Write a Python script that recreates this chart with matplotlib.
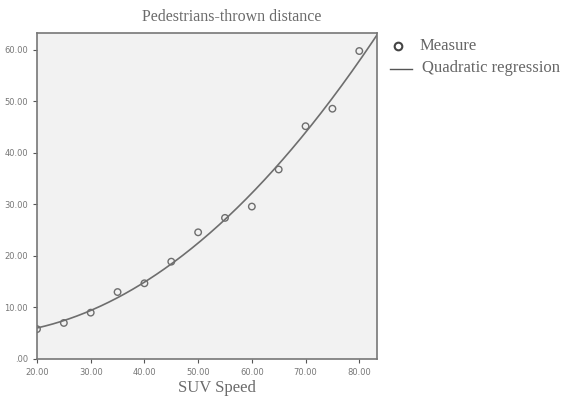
import numpy as np
import matplotlib
matplotlib.use("Agg")
import matplotlib.pyplot as plt
from matplotlib.lines import Line2D

speed = [20, 25, 30, 35, 40, 45, 50, 55, 60, 65, 70, 75, 80]
distance = [5.8, 7.0, 9.0, 13.0, 14.7, 18.9, 24.6, 27.4, 29.6, 36.8, 45.2, 48.6, 59.8]
xticks = [20, 30, 40, 50, 60, 70, 80]
yticks = [0, 10, 20, 30, 40, 50, 60]
legend_labels = ["Measure", "Quadratic regression"]

W, H = 569, 398
fig = plt.figure(figsize=(W / 100, H / 100), dpi=100)
ax = fig.add_axes([37 / W, 1 - 359 / H, 340 / W, 326 / H])
ax.set_facecolor("#f2f2f2")

coef = np.polyfit(speed, distance, 2)
xs = np.linspace(20, 83.3, 300)
ax.plot(xs, np.polyval(coef, xs), color="#6e6e6e", lw=1.2, zorder=2)
ax.scatter(speed, distance, s=22, facecolors="none", edgecolors="#6e6e6e", linewidths=1.0, zorder=3)

ax.set_xlim(20, 83.3)
ax.set_ylim(0, 63.3)
ax.set_xticks(xticks)
ax.set_yticks(yticks)
ax.set_xticklabels([f"{v:.2f}" for v in xticks])
ax.set_yticklabels([".00" if v == 0 else f"{v:.2f}" for v in yticks])
ax.tick_params(labelsize=6, colors="#555555", length=3, width=0.8, labelcolor="#777777")
for s in ax.spines.values():
    s.set_color("#777777")
    s.set_linewidth(1.2)

serif = "Liberation Serif"
tcol = "#6b6b6b"
fig.text(232 / W, 1 - 17 / H, "Pedestrians-thrown distance", ha="center", va="center",
         family=serif, fontsize=11.5, color=tcol)
fig.text(217 / W, 1 - 388 / H, "SUV Speed", ha="center", va="center",
         family=serif, fontsize=12, color=tcol)

# legend drawn manually to match placement
fig.add_artist(Line2D([398 / W], [1 - 46 / H], ls="none", marker="o", mfc="none",
                      mec="#444444", mew=1.5, ms=5.5, transform=fig.transFigure))
fig.add_artist(Line2D([390 / W, 412 / W], [1 - 69 / H, 1 - 69 / H], color="#555555",
                      lw=1.0, transform=fig.transFigure))
fig.text(420 / W, 1 - 46 / H, legend_labels[0], ha="left", va="center",
         family=serif, fontsize=12, color="#666666")
fig.text(422 / W, 1 - 68 / H, legend_labels[1], ha="left", va="center",
         family=serif, fontsize=12, color="#666666")

fig.savefig("out.png", dpi=100)
